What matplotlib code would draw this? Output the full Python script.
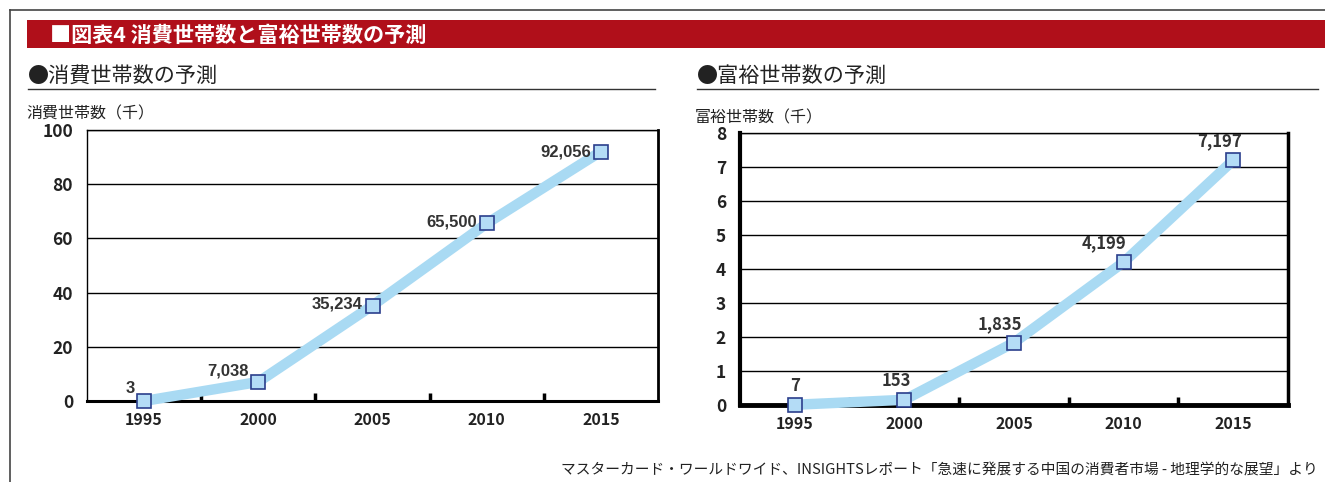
import matplotlib as mpl
mpl.use('Agg')
import matplotlib.pyplot as plt
from matplotlib.patches import Rectangle
from matplotlib.lines import Line2D

plt.rcParams['font.family'] = ['Liberation Sans Narrow', 'Noto Sans CJK JP', 'DejaVu Sans']

# データ
years = ['1995', '2000', '2005', '2010', '2015']
shohi = [3, 7038, 35234, 65500, 92056]     # 消費世帯数
fuyu = [7, 153, 1835, 4199, 7197]          # 富裕世帯数
shohi_ticks = [0, 20, 40, 60, 80, 100]
fuyu_ticks = [0, 1, 2, 3, 4, 5, 6, 7, 8]

LINE = '#a9daf3'
MFACE = '#b4dcf6'
MEDGE = '#2b3e8c'
RED = '#b00f1a'
JP = ['Noto Sans CJK JP', 'DejaVu Sans']

fig = plt.figure(figsize=(13.25, 4.82), dpi=100)

def px(x, y):
    return x / 1325, 1 - y / 482

# 枠線
fig.add_artist(Line2D([10 / 1325, 1], [1 - 10 / 482] * 2, color='#444444', lw=1.2))
fig.add_artist(Line2D([10 / 1325] * 2, [0, 1 - 10 / 482], color='#444444', lw=1.2))

# 赤い帯
fig.add_artist(Rectangle(px(27, 48), 1 - 27 / 1325, 28 / 482, color=RED, lw=0))
fig.text(*px(50, 35), '■図表4 消費世帯数と富裕世帯数の予測', family=JP, color='white',
         fontsize=15.2, fontweight='bold', va='center')

# 小見出し
for x0, x1, t in [(28, 655, '●消費世帯数の予測'), (697, 1318, '●富裕世帯数の予測')]:
    fig.text(*px(x0, 76), t, family=JP, fontsize=15.2, va='center', color='#222222')
    fig.add_artist(Line2D([x0 / 1325, x1 / 1325], [1 - 89 / 482] * 2, color='#333333', lw=1))

fig.text(*px(26, 114), '消費世帯数（千）', family=JP, fontsize=11.5, va='center', color='#222222')
fig.text(*px(695, 118), '富裕世帯数（千）', family=JP, fontsize=11.5, va='center', color='#222222')

fig.text(*px(1318, 471), 'マスターカード・ワールドワイド、INSIGHTSレポート「急速に発展する中国の消費者市場 - 地理学的な展望」より',
         family=JP, fontsize=10.6, ha='right', va='center', color='#222222')


def draw(ax, vals, ticks, scale, widths):
    xs = list(range(len(years)))
    ys = [v / scale for v in vals]
    ax.plot(xs, ys, color=LINE, lw=7.5, solid_capstyle='butt', zorder=3, clip_on=False)
    ax.plot(xs, ys, ls='none', marker='s', ms=10, mfc=MFACE, mec=MEDGE, mew=1.2,
            zorder=4, clip_on=False)
    ax.set_xlim(-0.5, len(years) - 0.5)
    ax.set_ylim(ticks[0], ticks[-1])
    ax.set_yticks(ticks)
    ax.set_yticklabels([str(t) for t in ticks])
    ax.set_xticks(xs)
    ax.set_xticklabels(years)
    ax.set_xticks([i + 0.5 for i in xs[:-1]], minor=True)
    ax.tick_params(axis='x', which='major', length=0, pad=8, labelsize=11.5)
    ax.tick_params(axis='x', which='minor', direction='in', length=6, width=2.5, color='black')
    ax.tick_params(axis='y', length=0, pad=10, labelsize=12.5)
    for lab in ax.get_xticklabels() + ax.get_yticklabels():
        lab.set_fontweight('bold')
        lab.set_color('#222222')
    ax.grid(axis='y', color='black', lw=1)
    ax.set_axisbelow(True)
    for side, w in zip(['left', 'bottom', 'right', 'top'], widths):
        ax.spines[side].set_linewidth(w)
    return xs, ys


# 左：消費世帯数
ax1 = fig.add_axes([87 / 1325, 1 - 401 / 482, 571 / 1325, 271 / 482])
xs, ys = draw(ax1, shohi, shohi_ticks, 1000, [1, 2.2, 2, 1])
label_dy = [9, 8, 1, 1, 0]
for x, y, v, dy in zip(xs, ys, shohi, label_dy):
    ax1.annotate(f'{v:,}', (x, y), xytext=(-7, dy), textcoords='offset points',
                 ha='right', va='center', fontsize=12, fontweight='bold',
                 family=['Liberation Sans', 'DejaVu Sans'], color='#333333', zorder=5)

# 右：富裕世帯数
ax2 = fig.add_axes([740 / 1325, 1 - 405 / 482, 548 / 1325, 272 / 482])
xs, ys = draw(ax2, fuyu, fuyu_ticks, 1000, [3, 3.5, 2.5, 1])
label_dx = [0, -6, -10, -14, -10]
for x, y, v, dx in zip(xs, ys, fuyu, label_dx):
    ax2.annotate(f'{v:,}', (x, y), xytext=(dx, 7), textcoords='offset points',
                 ha='center', va='bottom', fontsize=12, fontweight='bold',
                 color='#333333', zorder=5)

fig.savefig('out.png', dpi=100)
